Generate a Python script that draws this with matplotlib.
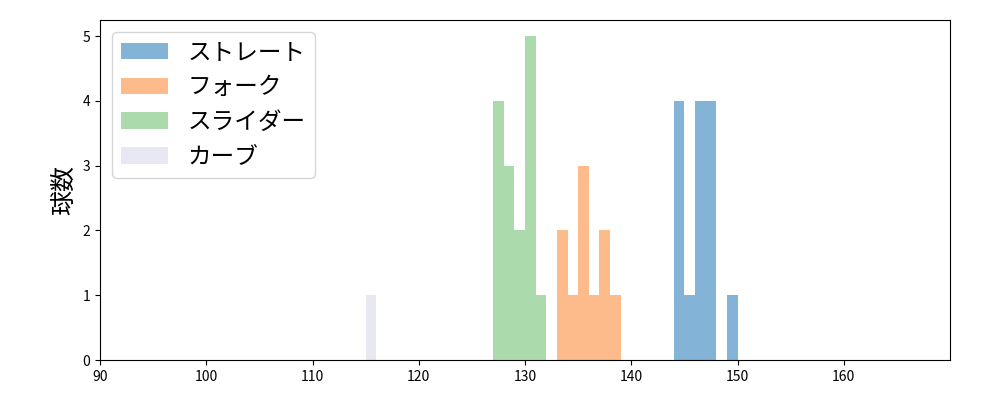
import matplotlib
matplotlib.use("Agg")
import matplotlib.pyplot as plt
import numpy as np

plt.rcParams['font.family'] = ['Noto Sans CJK JP', 'DejaVu Sans']

# pitch speeds (km/h), one entry per pitch
straight = [144, 144, 144, 144, 145, 146, 146, 146, 146, 147, 147, 147, 147, 149]
fork = [133, 133, 134, 135, 135, 135, 136, 137, 137, 138]
slider = [127, 127, 127, 127, 128, 128, 128, 129, 129,
          130, 130, 130, 130, 130, 131]
curve = [115]

labels = ['ストレート', 'フォーク', 'スライダー', 'カーブ']
colors = ['#3182bd', '#fd8d3c', '#74c476', '#dadaeb']

fig, ax = plt.subplots(figsize=(10, 4), dpi=100)
fig.subplots_adjust(left=0.1, right=0.95, top=0.95, bottom=0.1)

for data, lab, col in zip([straight, fork, slider, curve], labels, colors):
    bins = np.arange(min(data), max(data) + 2, 1)
    ax.hist(np.array(data) + 0.5, bins=bins, color=col, alpha=0.6, label=lab)

ax.set_xlim(90, 170)
ax.set_xticks(range(90, 170, 10))
ax.set_ylabel('球数', fontsize=18)
ax.legend(loc='upper left', fontsize=17)

plt.savefig('out.png')
